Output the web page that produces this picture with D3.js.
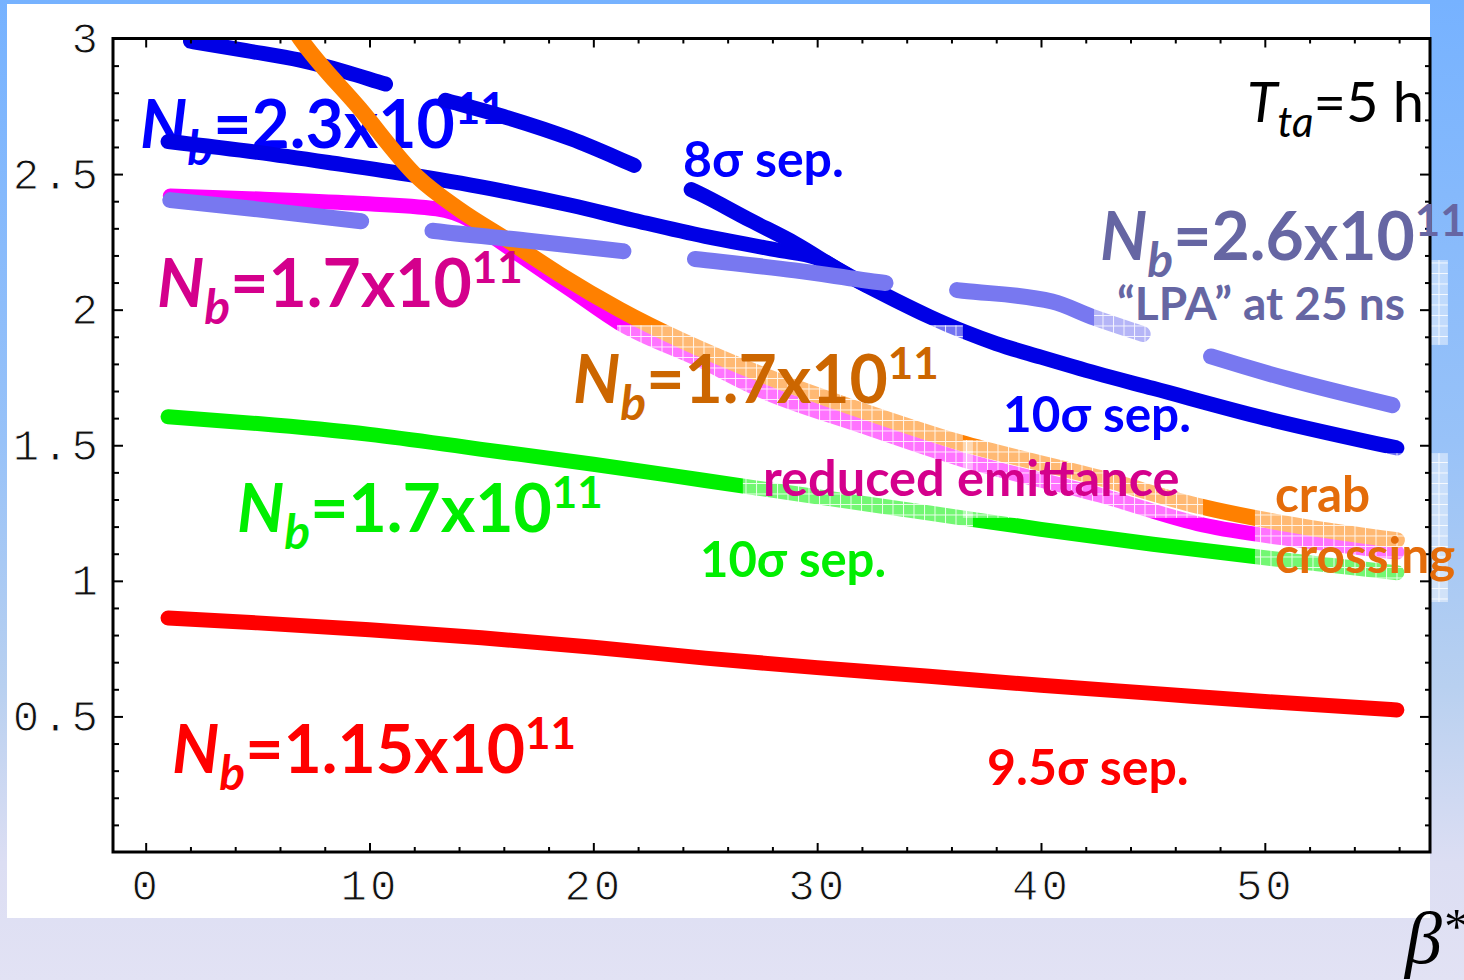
<!DOCTYPE html>
<html>
<head>
<meta charset="utf-8">
<script src="https://cdn.jsdelivr.net/npm/d3@7"></script>
<style>
	body { margin: 0; overflow: hidden; }
	svg { display: block; }
</style>
</head>
<body>
<svg id="chart" width="1464" height="980"></svg>
<script>
//Series: beta* (cm) and luminosity
var betaRed = [1, 5, 10, 15, 20, 25, 30, 35, 40, 45, 50, 55.9];
var lumRed = [0.863, 0.845, 0.82, 0.79, 0.755, 0.715, 0.68, 0.648, 0.615, 0.585, 0.555, 0.524];

var betaGreen = [1, 5, 10, 15, 20, 25, 30, 35, 40, 45, 50, 55.9];
var lumGreen = [1.605, 1.58, 1.54, 1.485, 1.43, 1.37, 1.31, 1.25, 1.19, 1.135, 1.085, 1.03];

var betaBlue10 = [1, 5, 8.4, 12, 15.8, 19, 21.8, 25, 28.2, 30, 31.5, 33.5, 35, 36.6, 38, 40, 42.5, 45, 50, 55.9];
var lumBlue10 = [2.62, 2.58, 2.54, 2.495, 2.44, 2.385, 2.33, 2.27, 2.22, 2.19, 2.12, 2.035, 1.975, 1.918, 1.875, 1.825, 1.765, 1.71, 1.6, 1.49];

var betaBlue8 = [2, 4.5, 6.9, 9, 10.8, 13.5, 15.8, 19, 22, 24.7, 27, 29, 31, 33.5];
var lumBlue8 = [2.99, 2.955, 2.92, 2.875, 2.83, 2.77, 2.717, 2.63, 2.526, 2.43, 2.33, 2.245, 2.145, 2.035];

var betaLPA = [1.1, 5, 9.9, 12.9, 17, 21.3, 24.5, 29, 32.9, 36.5, 40.5, 42.4, 44.7, 47.5, 51, 55.7];
var lumLPA = [2.404, 2.37, 2.323, 2.29, 2.255, 2.216, 2.187, 2.145, 2.1, 2.07, 2.03, 1.97, 1.906, 1.83, 1.745, 1.648];

var betaMagenta = [1.1, 5.1, 9.27, 13.0, 14.5, 15.5, 16.73, 18.96, 21.19, 24.77, 27.45, 31.91, 36.38, 42.64, 47.24, 51.57, 55.9];
var lumMagenta = [2.419, 2.408, 2.393, 2.372, 2.33, 2.27, 2.2, 2.075, 1.95, 1.814, 1.704, 1.574, 1.45, 1.316, 1.206, 1.15, 1.106];

var betaOrange = [6.4, 6.9, 9.58, 12.13, 14, 16.28, 18.5, 21.19, 27.45, 31.91, 36.38, 42.64, 47.24, 51.57, 55.9];
var lumOrange = [3.06, 3.0, 2.74, 2.49, 2.37, 2.25, 2.13, 2.0, 1.763, 1.63, 1.51, 1.379, 1.272, 1.202, 1.15];

//Axis ticks
var xMajorTicks = [0, 10, 20, 30, 40, 50];
var yMajorTicks = [0.5, 1, 1.5, 2, 2.5, 3];

var svg = d3.select("#chart");
var defs = svg.append("defs");

//Slide background
var grad = defs.append("linearGradient").attr("id", "bg").attr("x1", 0).attr("y1", 0).attr("x2", 0).attr("y2", 1);
[["0%", "#76b2ff"], ["45%", "#98c2f8"], ["70%", "#b8d0f0"], ["88%", "#dcdef3"], ["100%", "#e2e2f4"]].forEach(function(s){
	grad.append("stop").attr("offset", s[0]).attr("stop-color", s[1]);
});

//Half transparent text boxes left over from the slide
var pat = defs.append("pattern").attr("id", "grid")
	.attr("patternUnits", "userSpaceOnUse").attr("width", 10.5).attr("height", 10.5);
pat.append("rect").attr("width", 10.5).attr("height", 10.5).attr("fill", "#fff").attr("fill-opacity", 0.45);
pat.append("path").attr("d", "M0,0.5H10.5M0.5,0V10.5").attr("stroke", "#fff").attr("stroke-width", 1).attr("stroke-opacity", 0.85);

svg.append("rect").attr("width", 1464).attr("height", 980).attr("fill", "url(#bg)");
svg.append("rect").attr("x", 7).attr("y", 4).attr("width", 1423).attr("height", 914).attr("fill", "#fff");

//Scales
var x = d3.scaleLinear().domain([-1.46, 57.38]).range([113, 1430]);
var y = d3.scaleLinear().domain([0, 3]).range([852, 38.5]);

defs.append("clipPath").attr("id", "plot").append("rect")
	.attr("x", x.range()[0]).attr("y", y.range()[1])
	.attr("width", x.range()[1] - x.range()[0]).attr("height", y.range()[0] - y.range()[1]);

var font = "Lato, 'Open Sans', sans-serif";

//N_b=...x10^11 labels
function nbLabel(parent, px, py, color, value){
	var t = parent.append("text")
		.attr("x", px).attr("y", py)
		.attr("fill", color)
		.attr("font-family", font)
		.attr("font-weight", 700)
		.attr("font-size", 66);
	t.append("tspan").attr("font-style", "italic").text("N");
	t.append("tspan").attr("font-style", "italic").attr("font-size", 48).attr("dy", 17).text("b");
	t.append("tspan").attr("dy", -17).text("=" + value + "x10");
	t.append("tspan").attr("font-size", 44).attr("dy", -24).text("11");
	return t;
}

//Blue label sits under the curves
nbLabel(svg, 140, 148, "#0000ff", "2.3");

//Curves
var line = d3.line()
	.x(function(d){ return x(d[0]); })
	.y(function(d){ return y(d[1]); })
	.curve(d3.curveMonotoneX);

var curves = svg.append("g").attr("clip-path", "url(#plot)")
	.attr("fill", "none").attr("stroke-linecap", "round").attr("stroke-linejoin", "round");

var series = [
	{b: betaRed, l: lumRed, color: "#ff0000", w: 15},
	{b: betaGreen, l: lumGreen, color: "#00f000", w: 15},
	{b: betaBlue10, l: lumBlue10, color: "#0000e6", w: 15},
	{b: betaBlue8, l: lumBlue8, color: "#0000e6", w: 15, dash: "200,62"},
	{b: betaMagenta, l: lumMagenta, color: "#ff00ff", w: 15},
	{b: betaOrange, l: lumOrange, color: "#ff8000", w: 16},
	{b: betaLPA, l: lumLPA, color: "#7878f0", w: 16, dash: "192,72"}
];

series.forEach(function(s){
	curves.append("path")
		.datum(d3.zip(s.b, s.l))
		.attr("d", line)
		.attr("stroke", s.color)
		.attr("stroke-width", s.w)
		.attr("stroke-dasharray", s.dash || null);
});

//Washed out text box areas, given in data units
var boxes = [
	[21.06, 36.51, 1.519, 1.943],
	[26.68, 36.96, 1.18, 1.519],
	[36.51, 47.24, 1.232, 1.519],
	[49.56, 58.18, 0.922, 1.471],
	[42.37, 58.18, 1.87, 2.183]
];
svg.append("g").selectAll("rect")
	.data(boxes)
	.enter().append("rect")
	.attr("x", function(d){ return x(d[0]); })
	.attr("y", function(d){ return y(d[3]); })
	.attr("width", function(d){ return x(d[1]) - x(d[0]); })
	.attr("height", function(d){ return y(d[2]) - y(d[3]); })
	.attr("fill", "url(#grid)");

//Frame and ticks
svg.append("rect")
	.attr("x", x.range()[0]).attr("y", y.range()[1])
	.attr("width", x.range()[1] - x.range()[0]).attr("height", y.range()[0] - y.range()[1])
	.attr("fill", "none").attr("stroke", "#000").attr("stroke-width", 3);

var xMinorTicks = d3.range(0, 57, 2).filter(function(v){ return v % 10 !== 0; });
var yMinorTicks = d3.range(1, 30).map(function(v){ return v / 10; }).filter(function(v){ return Math.round(v * 10) % 5 !== 0; });

function axisGroup(axis, tx, ty){
	var g = svg.append("g").attr("transform", "translate(" + tx + "," + ty + ")").call(axis);
	g.select(".domain").remove();
	g.selectAll("line").attr("stroke", "#000").attr("stroke-width", 2);
	return g;
}

var xLab = axisGroup(d3.axisBottom(x).tickValues(xMajorTicks).tickSize(-9).tickPadding(17).tickFormat(d3.format("d")), 0, y(0));
axisGroup(d3.axisBottom(x).tickValues(xMinorTicks).tickSize(-5).tickFormat(""), 0, y(0));
axisGroup(d3.axisTop(x).tickValues(xMajorTicks).tickSize(-9).tickFormat(""), 0, y(3));
axisGroup(d3.axisTop(x).tickValues(xMinorTicks).tickSize(-5).tickFormat(""), 0, y(3));

var yLab = axisGroup(d3.axisLeft(y).tickValues(yMajorTicks).tickSize(-10).tickPadding(12).tickFormat(function(d){ return String(d); }), x.range()[0], 0);
axisGroup(d3.axisLeft(y).tickValues(yMinorTicks).tickSize(-6).tickFormat(""), x.range()[0], 0);
axisGroup(d3.axisRight(y).tickValues(yMajorTicks).tickSize(-10).tickFormat(""), x.range()[1], 0);
axisGroup(d3.axisRight(y).tickValues(yMinorTicks).tickSize(-5).tickFormat(""), x.range()[1], 0);

//Thin Courier-like tick labels: a white outline eats into the glyphs
[xLab, yLab].forEach(function(g){
	g.attr("font-family", null).attr("font-size", null);
	g.selectAll("text")
		.attr("fill", "#111")
		.attr("stroke", "#fff")
		.attr("stroke-width", 1)
		.style("font-family", "'Liberation Mono', 'DejaVu Sans Mono', monospace")
		.style("font-size", "44px")
		.style("letter-spacing", "3px");
});

//Labels
var labels = svg.append("g").attr("font-family", font).attr("font-weight", 700);

nbLabel(labels, 157, 307, "#d4008c", "1.7");
nbLabel(labels, 573, 403, "#cc6600", "1.7");
nbLabel(labels, 237, 532, "#00ee00", "1.7");
nbLabel(labels, 172, 773, "#ff0000", "1.15");
nbLabel(labels, 1100, 260, "#6666a3", "2.6");

function plainLabel(px, py, color, str, size){
	return labels.append("text")
		.attr("x", px).attr("y", py)
		.attr("fill", color)
		.attr("font-size", size || 50)
		.text(str);
}

plainLabel(683, 177, "#0000ff", "8\u03c3 sep.");
plainLabel(1003, 432, "#0000ff", "10\u03c3 sep.", 49.5);
plainLabel(763, 496, "#d4008c", "reduced emittance", 50.5);
plainLabel(700, 577, "#00ee00", "10\u03c3 sep.", 49);
plainLabel(987, 785, "#ff0000", "9.5\u03c3 sep.");
plainLabel(1275, 512, "#e46c0a", "crab", 49.5);
plainLabel(1275, 573, "#e46c0a", "crossing", 49.5);
plainLabel(1117, 320, "#6666a3", "\u201cLPA\u201d at 25 ns", 46);

//T_ta = 5 h
var tta = labels.append("text")
	.attr("x", 1247).attr("y", 122)
	.attr("fill", "#000")
	.attr("font-weight", 400)
	.attr("font-size", 56);
tta.append("tspan").attr("font-style", "italic").text("T");
tta.append("tspan").attr("font-style", "italic").attr("font-size", 42).attr("dy", 15).text("ta");
tta.append("tspan").attr("dy", -15).text("=5 h");

//Axis title, cut by the slide edge
var bstar = svg.append("text")
	.attr("x", 1405).attr("y", 963)
	.attr("fill", "#000")
	.attr("font-family", "'Liberation Serif', 'DejaVu Serif', serif")
	.attr("font-style", "italic")
	.attr("font-size", 74);
bstar.append("tspan").text("\u03b2");
bstar.append("tspan").attr("font-size", 50).attr("dy", -20).text("*");
</script>
</body>
</html>
